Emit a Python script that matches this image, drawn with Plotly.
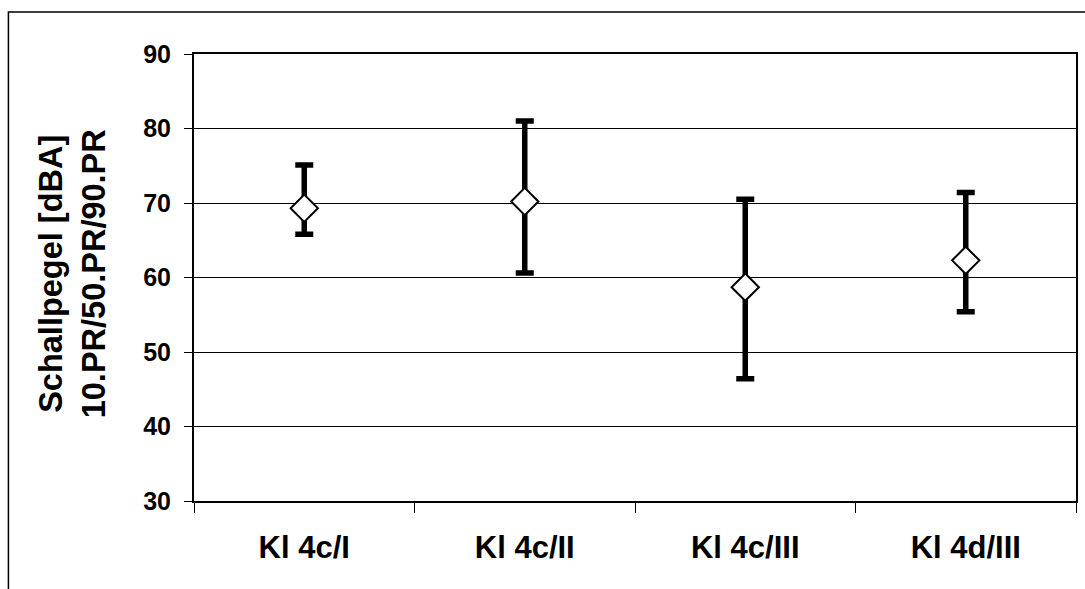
import plotly.graph_objects as go

categories = ["Kl 4c/I", "Kl 4c/II", "Kl 4c/III", "Kl 4d/III"]
p50 = [69.3, 70.2, 58.7, 62.3]
p90 = [75.1, 81.0, 70.5, 71.4]
p10 = [65.8, 60.6, 46.4, 55.4]
y_ticks = [30, 40, 50, 60, 70, 80, 90]

up = [h - m for h, m in zip(p90, p50)]
down = [m - l for m, l in zip(p50, p10)]

FONT = "Liberation Sans, Arial, sans-serif"

fig = go.Figure()
fig.add_trace(go.Scatter(
    x=categories, y=p50, mode="markers",
    marker=dict(symbol="diamond", size=21, color="white",
                line=dict(color="black", width=2)),
    error_y=dict(type="data", symmetric=False, array=up, arrayminus=down,
                 color="black", thickness=5.5, width=9),
    showlegend=False, hoverinfo="skip",
))

fig.update_layout(
    width=1085, height=589,
    margin=dict(l=194, r=7, t=54, b=88),
    paper_bgcolor="white", plot_bgcolor="white",
    xaxis=dict(
        type="category", range=[-0.5, 3.5],
        tickson="boundaries", ticks="outside", ticklen=10, tickwidth=1,
        tickcolor="black", showgrid=False,
        showline=True, linecolor="black", linewidth=2, mirror=True,
        tickfont=dict(family=FONT, size=31, color="black", weight="bold"),
        ticklabelstandoff=18,
    ),
    yaxis=dict(
        range=[30, 90], tickvals=y_ticks, ticktext=[str(v) for v in y_ticks],
        ticks="outside", ticklen=8, tickwidth=1, tickcolor="black",
        showgrid=True, gridcolor="black", gridwidth=1,
        showline=True, linecolor="black", linewidth=2, mirror=True,
        zeroline=False,
        tickfont=dict(family=FONT, size=25, color="black", weight="bold"),
        ticklabelstandoff=8,
    ),
    annotations=[dict(
        text="Schallpegel [dBA]<br>10.PR/50.PR/90.PR",
        xref="paper", yref="paper", x=(72 - 194) / 884, y=1 - (274 - 54) / 447,
        xanchor="center", yanchor="middle", textangle=-90, showarrow=False,
        font=dict(family=FONT, size=32.5, color="black", weight="bold"),
    )],
    shapes=[dict(
        type="rect", xref="paper", yref="paper",
        x0=(8 - 194) / 884, x1=1.1, y0=-0.3, y1=1 + (54 - 12) / 447,
        line=dict(color="black", width=1.5), fillcolor="rgba(0,0,0,0)",
    )],
)

fig.write_html("out.html")
